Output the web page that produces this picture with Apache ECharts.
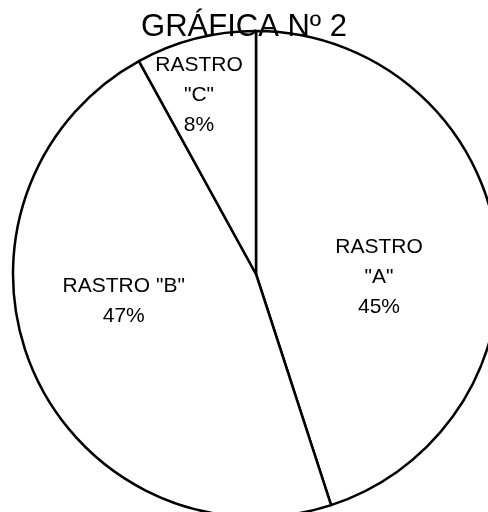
<!DOCTYPE html>
<html>
<head>
<meta charset="utf-8">
<script src="https://cdn.jsdelivr.net/npm/echarts@6/dist/echarts.min.js"></script>
<style>
  html, body { margin: 0; padding: 0; background: #fff; }
</style>
</head>
<body>
<div id="pie" style="width: 488px; height: 512px"></div>
<script>
var names = ['RASTRO\n"A"', 'RASTRO "B"', 'RASTRO\n"C"'];
var values = [45, 47, 8];
var percents = ['45%', '47%', '8%'];

// label nudges so text sits where the original has it
var offsets = [[0, 23], [-18, -22], [-26, -58]];

var chartDom = document.getElementById('pie');
var chart = echarts.init(chartDom);

var data = [];
for (var i = 0; i < names.length; i++) {
  data.push({
    name: names[i],
    value: values[i],
    pct: percents[i],
    label: { offset: offsets[i] }
  });
}

var option = {
  animation: false,
  backgroundColor: '#fff',
  title: {
    text: 'GRÁFICA Nº 2',
    left: 'center',
    top: 12,
    padding: 0,
    textStyle: {
      fontFamily: 'Liberation Sans',
      fontSize: 31,
      fontWeight: 'normal',
      color: '#000'
    }
  },
  series: [
    {
      type: 'pie',
      center: [256, 274],
      radius: 243,
      startAngle: 90,
      clockwise: true,
      data: data,
      itemStyle: {
        color: '#fff',
        borderColor: '#000',
        borderWidth: 2.5
      },
      label: {
        show: true,
        position: 'inside',
        color: '#000',
        fontFamily: 'Liberation Sans',
        fontSize: 21,
        lineHeight: 30,
        align: 'center',
        formatter: function (p) {
          return p.name + '\n' + p.data.pct;
        }
      },
      labelLine: { show: false },
      emphasis: { disabled: true }
    }
  ]
};

chart.setOption(option);
</script>
</body>
</html>
